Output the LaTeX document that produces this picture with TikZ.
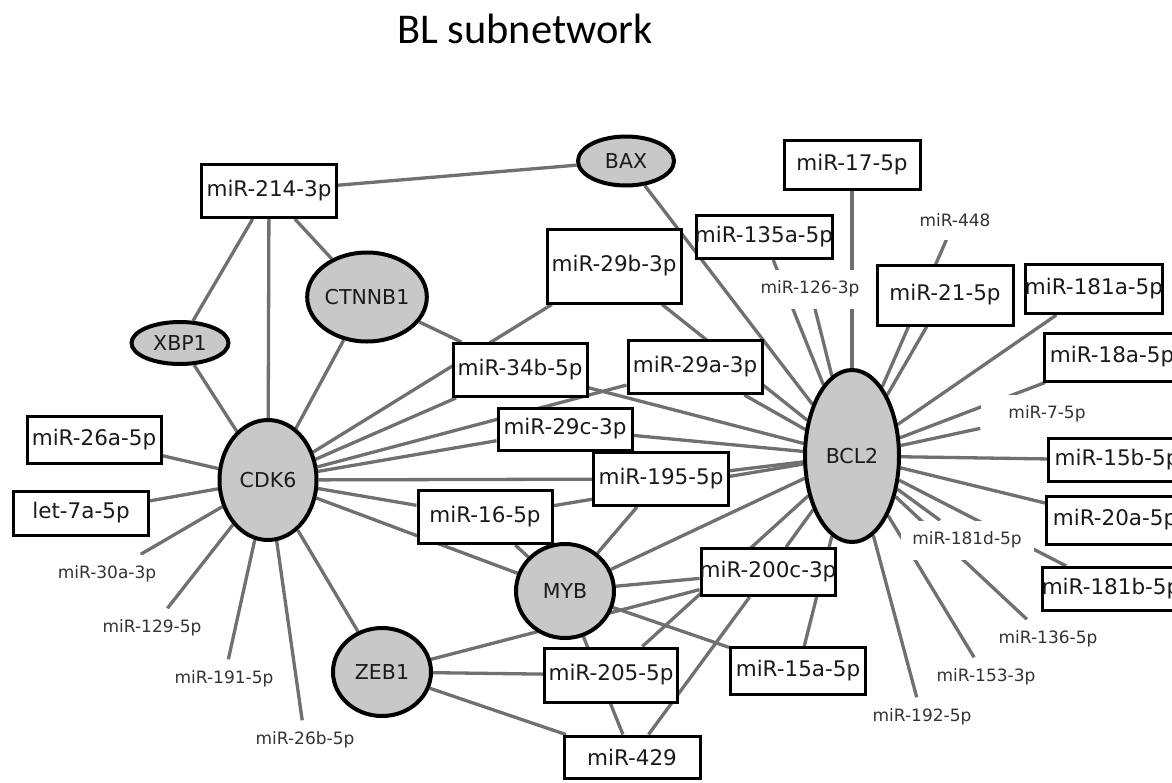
\documentclass[tikz,border=0pt]{standalone}
\usepackage{fontspec}
\setmainfont{DejaVu Sans}
\newfontfamily\titlefont{Carlito}
\usetikzlibrary{shapes.geometric}
\pgfdeclarelayer{back}
\pgfdeclarelayer{bg}
\pgfsetlayers{back,bg,main}
\definecolor{edgegray}{HTML}{707070}
\definecolor{genegray}{HTML}{C8C8C8}
\definecolor{txtdark}{HTML}{1A1A1A}
\definecolor{txtlab}{HTML}{333333}
\newcommand\ctxt[1]{\makebox[0pt]{#1}}
\begin{document}
\begin{tikzpicture}[x=1pt,y=-1pt,
  edge/.style={draw=edgegray,line width=3.3pt},
  mbox/.style={draw=black,line width=3pt,fill=white,rectangle,inner sep=0pt,minimum width=135pt,font=\fontsize{21.5}{21.5}\selectfont,text=txtdark},
  gene/.style={draw=black,line width=4pt,fill=genegray,ellipse,inner sep=0pt,font=\fontsize{20.5}{20.5}\selectfont,text=txtdark},
  lab/.style={fill=white,rectangle,inner sep=0pt,minimum width=133pt,minimum height=39pt,font=\fontsize{17}{17}\selectfont,text=txtlab},
]
\useasboundingbox (0,0) rectangle (1172,782);
\begin{pgfonlayer}{back}
\fill[white] (0,0) rectangle (1172,782);
\end{pgfonlayer}

% title
\node[font=\titlefont\fontsize{42.4}{42.4}\selectfont,anchor=base,inner sep=0pt] (title) at (525,43) {BL subnetwork};

% free labels (white backgrounds)
\node[lab] (l126) at (810,289) {miR-126-3p};
\node[lab] (l448) at (955,220) {miR-448};
\node[lab] (l7) at (1047,414) {miR-7-5p};
\node[lab] (l181d) at (967,540) {miR-181d-5p};
\node[lab] (l136) at (1048,639) {miR-136-5p};
\node[lab] (l153) at (986,677) {miR-153-3p};
\node[lab] (l192) at (922,717) {miR-192-5p};
\node[lab] (l30a) at (107,574) {miR-30a-3p};
\node[lab] (l129) at (152,628) {miR-129-5p};
\node[lab] (l191) at (224,679) {miR-191-5p};
\node[lab] (l26b) at (305,740) {miR-26b-5p};

% miRNA boxes
\node[mbox,minimum height=53pt] (m214) at (269,191) {\ctxt{miR-214-3p}};
\node[mbox,minimum height=47pt,minimum width=134pt] (m26a) at (94,440) {\ctxt{miR-26a-5p}};
\node[mbox,minimum height=44pt] (let7a) at (81,513) {\ctxt{let-7a-5p}};
\node[mbox,minimum height=74pt,minimum width=134pt] (m29b) at (614,266) {\ctxt{miR-29b-3p}};
\node[mbox,minimum height=43pt,minimum width=136pt] (m135a) at (764,237) {\ctxt{miR-135a-5p}};
\node[mbox,minimum height=49pt,minimum width=136pt] (m17) at (852,165) {\ctxt{miR-17-5p}};
\node[mbox,minimum height=60pt,minimum width=136pt] (m21) at (945,295) {\ctxt{miR-21-5p}};
\node[mbox,minimum height=49pt,minimum width=137pt] (m181a) at (1094,289) {\ctxt{miR-181a-5p}};
\node[mbox,minimum height=48pt,minimum width=136pt] (m18a) at (1112,357) {\ctxt{miR-18a-5p}};
\node[mbox,minimum height=53pt,minimum width=134pt] (m34b) at (520,370) {\ctxt{miR-34b-5p}};
\node[mbox,minimum height=53pt,minimum width=134pt] (m29a) at (695,367) {\ctxt{miR-29a-3p}};
\node[mbox,minimum height=42pt,minimum width=134pt] (m29c) at (565,429) {\ctxt{miR-29c-3p}};
\node[mbox,minimum height=53pt] (m195) at (661,479) {\ctxt{miR-195-5p}};
\node[mbox,minimum height=53pt,minimum width=134pt] (m16) at (485,517) {\ctxt{miR-16-5p}};
\node[mbox,minimum height=47pt,minimum width=134pt] (m200c) at (768,572) {\ctxt{miR-200c-3p}};
\node[mbox,minimum height=54pt,minimum width=133pt] (m205) at (611,675) {\ctxt{miR-205-5p}};
\node[mbox,minimum height=47pt] (m15a) at (798,671) {\ctxt{miR-15a-5p}};
\node[mbox,minimum height=42pt,minimum width=136pt] (m429) at (632,757) {\ctxt{miR-429}};
\node[mbox,minimum height=43pt,minimum width=137pt] (m15b) at (1117,460) {\ctxt{miR-15b-5p}};
\node[mbox,minimum height=48pt,minimum width=137pt] (m20a) at (1115,520) {\ctxt{miR-20a-5p}};
\node[mbox,minimum height=43pt,minimum width=137pt] (m181b) at (1111,589) {\ctxt{miR-181b-5p}};

% genes
\node[gene,minimum width=96pt,minimum height=49pt] (bax) at (626,161) {BAX};
\node[gene,minimum width=97pt,minimum height=42pt] (xbp1) at (180,343) {XBP1};
\node[gene,minimum width=96pt,minimum height=89pt] (ctnnb1) at (367,297) {CTNNB1};
\node[gene,minimum width=97pt,minimum height=120pt] (cdk6) at (268,480) {CDK6};
\node[gene,minimum width=98pt,minimum height=88pt] (zeb1) at (382,672) {ZEB1};
\node[gene,minimum width=98pt,minimum height=94pt] (myb) at (565,591) {MYB};
\node[gene,minimum width=94pt,minimum height=172pt] (bcl2) at (852,456) {BCL2};

\begin{pgfonlayer}{bg}
\foreach \a/\b in {cdk6/m214,cdk6/xbp1,cdk6/ctnnb1,cdk6/m26a,cdk6/let7a,cdk6/l30a,cdk6/l129,cdk6/l191,cdk6/l26b,cdk6/zeb1,cdk6/myb,cdk6/m16,cdk6/m195,cdk6/m29c,cdk6/m29a,cdk6/m34b,cdk6/m29b,
  m214/xbp1,m214/ctnnb1,m214/bax,ctnnb1/m34b,bax/bcl2,
  m29b/bcl2,m34b/bcl2,m29a/bcl2,m29c/bcl2,m195/bcl2,m195/myb,m16/bcl2,m16/myb,
  myb/bcl2,myb/m200c,myb/m15a,myb/m429,zeb1/m200c,zeb1/m205,zeb1/m429,
  m205/bcl2,m200c/bcl2,m200c/m429,m15a/bcl2,
  bcl2/m17,bcl2/l126,bcl2/m135a,bcl2/l448,bcl2/m21,bcl2/m181a,bcl2/m18a,bcl2/l7,bcl2/m15b,bcl2/m20a,bcl2/m181b,bcl2/l181d,bcl2/l136,bcl2/l153,bcl2/l192}
  \draw[edge] (\a) -- (\b);
\end{pgfonlayer}
\end{tikzpicture}
\end{document}
